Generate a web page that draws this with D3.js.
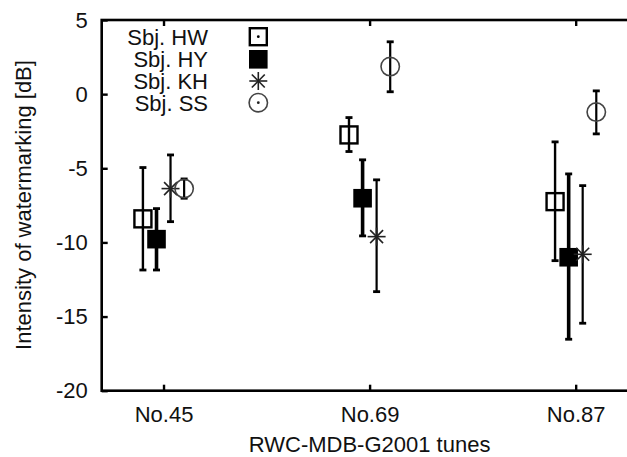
<!DOCTYPE html>
<html><head><meta charset="utf-8">
<script src="https://cdn.jsdelivr.net/npm/d3@7"></script>
<style>
html,body{margin:0;padding:0;background:#fff;}
svg{display:block;}
text{font-family:"Liberation Sans",Arial,sans-serif;fill:#111;}
</style></head>
<body>
<svg id="chart" width="627" height="457"></svg>
<script>
// ---- data ----
const tunes = ["No.45", "No.69", "No.87"];
const subjects = ["Sbj. HW", "Sbj. HY", "Sbj. KH", "Sbj. SS"];
const yTicks = [5, 0, -5, -10, -15, -20];
// mean, lower, upper for each tune
const hwMean = [-8.41, -2.75, -7.25];
const hwLow  = [-11.86, -3.87, -11.23];
const hwHigh = [-4.95, -1.58, -3.22];
const hyMean = [-9.78, -7.02, -11.0];
const hyLow  = [-11.86, -9.56, -16.53];
const hyHigh = [-7.72, -4.43, -5.38];
const khMean = [-6.37, -9.61, -10.80];
const khLow  = [-8.60, -13.32, -15.45];
const khHigh = [-4.10, -5.78, -6.17];
const ssMean = [-6.37, 1.86, -1.21];
const ssLow  = [-7.02, 0.16, -2.68];
const ssHigh = [-5.72, 3.53, 0.22];

const series = [
  {name: subjects[0], mean: hwMean, low: hwLow, high: hwHigh, marker: "openSquare", off: -0.1, bw: 2.4},
  {name: subjects[1], mean: hyMean, low: hyLow, high: hyHigh, marker: "filledSquare", off: -0.034, bw: 3.6},
  {name: subjects[2], mean: khMean, low: khLow, high: khHigh, marker: "star", off: 0.034, bw: 2.2},
  {name: subjects[3], mean: ssMean, low: ssLow, high: ssHigh, marker: "circle", off: 0.1, bw: 2.2}
];

(function () {
const FS = "22px";
const svg = d3.select("#chart");
const mLeft = 101.7, mRight = 637.5, mTop = 20, mBottom = 390.7;
const x = d3.scaleLinear().domain([0.7, 3.3]).range([mLeft, mRight]);
const y = d3.scaleLinear().domain([-20, 5]).range([mBottom, mTop]);

// frame
svg.append("rect").attr("x", mLeft).attr("y", mTop).attr("width", mRight - mLeft).attr("height", mBottom - mTop)
  .attr("fill", "none").attr("stroke", "#000").attr("stroke-width", 2.6);

// y axis
const yAxis = d3.axisLeft(y).tickValues(yTicks).tickSize(-6).tickPadding(14).tickFormat(d => String(d));
const gy = svg.append("g").attr("transform", `translate(${mLeft},0)`).call(yAxis);
gy.select(".domain").remove();
gy.selectAll(".tick line").attr("stroke", "#000").attr("stroke-width", 2.4);
gy.selectAll(".tick text").attr("font-size", FS).attr("fill", "#111")
  .attr("font-family", '"Liberation Sans",Arial,sans-serif');

// x axis (bottom)
const xAxis = d3.axisBottom(x).tickValues([1, 2, 3]).tickSize(-6).tickPadding(16)
  .tickFormat((d, i) => tunes[i]);
const gx = svg.append("g").attr("transform", `translate(0,${mBottom})`).call(xAxis);
gx.select(".domain").remove();
gx.selectAll(".tick line").attr("stroke", "#000").attr("stroke-width", 2.4);
gx.selectAll(".tick text").attr("font-size", FS).attr("fill", "#111")
  .attr("font-family", '"Liberation Sans",Arial,sans-serif');

// x axis (top ticks mirrored)
const xTop = d3.axisTop(x).tickValues([1, 2, 3]).tickSize(-6).tickFormat("");
const gxt = svg.append("g").attr("transform", `translate(0,${mTop})`).call(xTop);
gxt.select(".domain").remove();
gxt.selectAll(".tick line").attr("stroke", "#000").attr("stroke-width", 2.4);

// axis titles
svg.append("text").attr("x", x(2)).attr("y", 452).attr("text-anchor", "middle")
  .attr("font-size", FS).text("RWC-MDB-G2001 tunes");
svg.append("text").attr("transform", "translate(31,205) rotate(-90)").attr("text-anchor", "middle")
  .attr("font-size", FS).text("Intensity of watermarking [dB]");

// marker drawing
function drawMarker(g, type, cx, cy, legend) {
  if (type === "openSquare") {
    g.append("rect").attr("x", cx - 8.5).attr("y", cy - 8.5).attr("width", 17).attr("height", 17)
      .attr("fill", "none").attr("stroke", "#000").attr("stroke-width", 2.4);
    if (legend) g.append("circle").attr("cx", cx).attr("cy", cy).attr("r", 1.4).attr("fill", "#000");
  } else if (type === "filledSquare") {
    g.append("rect").attr("x", cx - 9.3).attr("y", cy - 9.3).attr("width", 18.6).attr("height", 18.6)
      .attr("fill", "#000");
  } else if (type === "star") {
    const r = 9;
    const d = r * 0.72;
    [[-r, 0, r, 0], [0, -r, 0, r], [-d, -d, d, d], [-d, d, d, -d]].forEach(s => {
      g.append("line").attr("x1", cx + s[0]).attr("y1", cy + s[1]).attr("x2", cx + s[2]).attr("y2", cy + s[3])
        .attr("stroke", "#222").attr("stroke-width", 1.6);
    });
  } else if (type === "circle") {
    g.append("circle").attr("cx", cx).attr("cy", cy).attr("r", 9.2)
      .attr("fill", "none").attr("stroke", "#444").attr("stroke-width", 1.6);
    if (legend) g.append("circle").attr("cx", cx).attr("cy", cy).attr("r", 1.4).attr("fill", "#222");
  }
}

// error bars + markers
series.forEach(s => {
  const g = svg.append("g");
  tunes.forEach((t, i) => {
    const cx = x(i + 1 + s.off);
    g.append("line").attr("x1", cx).attr("x2", cx).attr("y1", y(s.low[i])).attr("y2", y(s.high[i]))
      .attr("stroke", "#000").attr("stroke-width", s.bw);
    [s.low[i], s.high[i]].forEach(v => {
      g.append("line").attr("x1", cx - 3.5).attr("x2", cx + 3.5).attr("y1", y(v)).attr("y2", y(v))
        .attr("stroke", "#000").attr("stroke-width", 2.8);
    });
    drawMarker(g, s.marker, cx, y(s.mean[i]), false);
  });
});

// legend
const legRows = [36.7, 59.3, 81, 102.7];
series.forEach((s, i) => {
  svg.append("text").attr("x", 208).attr("y", legRows[i] + 7.8).attr("text-anchor", "end")
    .attr("font-size", FS).text(s.name);
  drawMarker(svg.append("g"), s.marker, 258.3, legRows[i], true);
});
})();
</script>
</body></html>
